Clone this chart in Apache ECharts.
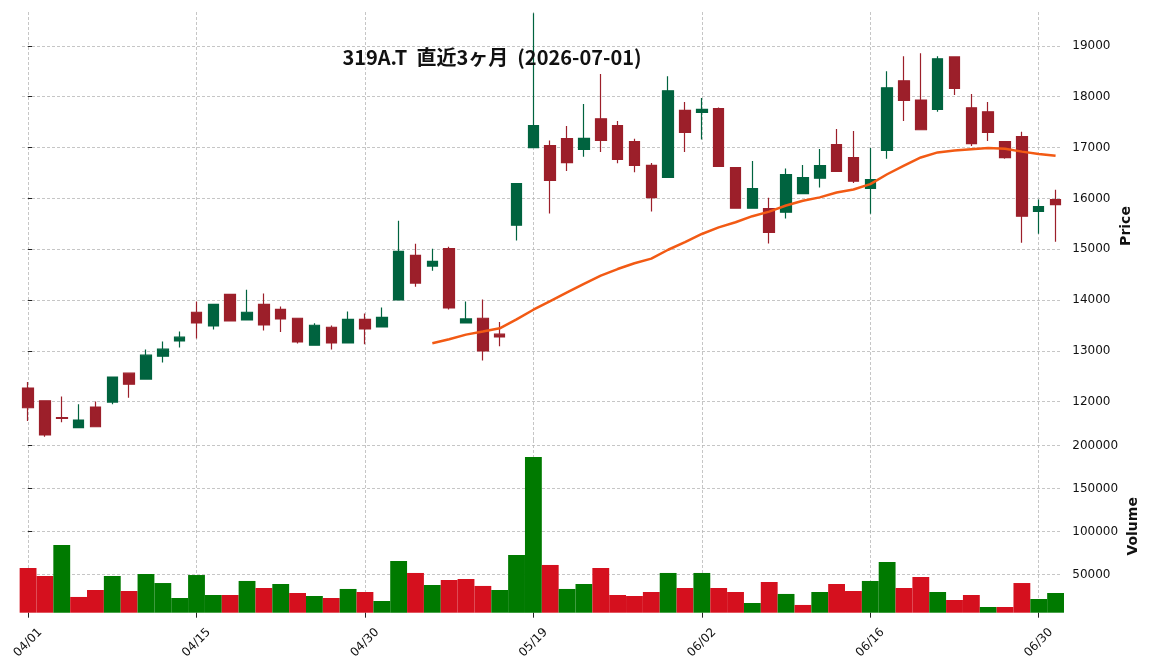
<!DOCTYPE html>
<html>
<head>
<meta charset="utf-8">
<script src="https://cdn.jsdelivr.net/npm/echarts@6/dist/echarts.min.js"></script>
<style>
html, body { margin: 0; padding: 0; background: #fff; }
#chart { width: 1152px; height: 670px; }
</style>
</head>
<body>
<div id="chart"></div>
<script>
// 日付 (取引日)
const dates = ['04/01','04/02','04/03','04/06','04/07','04/08','04/09','04/10','04/13','04/14',
  '04/15','04/16','04/17','04/20','04/21','04/22','04/23','04/24','04/27','04/28',
  '04/30','05/01','05/07','05/08','05/11','05/12','05/13','05/14','05/15','05/18',
  '05/19','05/20','05/21','05/22','05/25','05/26','05/27','05/28','05/29','06/01',
  '06/02','06/03','06/04','06/05','06/08','06/09','06/10','06/11','06/12','06/15',
  '06/16','06/17','06/18','06/19','06/22','06/23','06/24','06/25','06/26','06/29',
  '06/30','07/01']

const opens = [12268,12019,11690,11489,11895,11993,12562,12445,12896,13196,
  13760,13491,14113,13608,13917,13818,13642,13112,13465,13157,
  13622,13471,14001,14878,14668,15010,13550,13642,13328,15473,
  16998,17037,17175,16965,17567,17430,17116,16651,16415,17730,
  17691,17769,16606,15807,15801,15728,16095,16396,17057,16802,
  16199,16945,18313,17934,17750,18784,17783,17705,17116,17214,
  15742,15977]

const closes = [11881,11346,11670,11640,11508,12484,12346,12916,13033,13269,
  13550,13917,13589,13760,13510,13628,13177,13504,13157,13622,
  13432,13661,14957,14335,14761,13844,13628,13000,13275,16291,
  17430,16356,16704,17181,17141,16768,16651,16017,18117,17298,
  17750,16631,15807,16193,15330,16468,16409,16645,16533,16337,
  16370,18176,17926,17351,18745,18162,17077,17298,16802,15650,
  15840,15879]

const lows = [11620,11312,11595,11489,11508,11948,12078,12445,12772,13067,
  13243,13420,13589,13608,13400,13373,13145,13112,13028,13157,
  13131,13471,14001,14264,14578,13813,13550,12812,13092,15173,
  16998,15703,16541,16821,16914,16690,16513,15742,16415,16914,
  17161,16631,15807,15807,15114,15604,16095,16213,16533,16305,
  15697,16782,17522,17351,17705,18032,17031,17130,16782,15128,
  15304,15147]

const highs = [12386,12030,12105,11948,12003,12497,12562,13028,13185,13381,
  13970,13917,14113,14205,14127,13871,13642,13545,13499,13773,
  13734,13852,15559,15108,15010,15049,13970,14009,13569,16291,
  19640,17141,17424,17856,18445,17522,17175,16698,18405,17895,
  17973,17790,16606,16737,16011,16586,16658,16972,17365,17326,
  16992,18503,18798,18857,18798,18784,18052,17895,17116,17312,
  15977,16168]

const volumes = [57800,48500,84500,24100,32200,48500,31000,50800,40300,22900,
  49600,26400,26400,42700,34500,39200,28700,25200,22900,33400,
  29900,19400,65900,52000,38000,43800,45000,36900,32200,72900,
  186900,61300,33400,39200,57800,26400,25200,29900,52000,34500,
  52000,34500,29900,17100,41500,27600,14800,29900,39200,31000,
  42700,64800,34500,47300,29900,20600,26400,12400,12400,40300,
  21700,28700]

// 25日移動平均 (index 24 から)
const maStart = 24
const ma25 = [13151,13228,13320,13380,13445,13620,13810,13980,14150,14320,
  14480,14610,14725,14815,14990,15140,15300,15430,15530,15650,
  15740,15860,15955,16020,16115,16175,16280,16475,16645,16805,
  16905,16940,16965,16990,16975,16920,16875,16840]

const priceTicks = [12000,13000,14000,15000,16000,17000,18000,19000]
const volumeTicks = [50000,100000,150000,200000]
const dateTicks = [0,10,20,30,40,50,60]

const upColor = '#00633f'
const downColor = '#9c1f2a'
const volUpColor = '#007a00'
const volDownColor = '#d5101e'
const gridLine = { show: true, lineStyle: { color: '#b8b8b8', width: 0.8, type: [3, 2] } }
const tickFont = { fontFamily: 'DejaVu Sans', fontSize: 12, color: '#111' }
const nameFont = { fontFamily: 'DejaVu Sans', fontWeight: 'bold', fontSize: 14, color: '#111' }

const candleData = dates.map((d, i) => [i, opens[i], closes[i], lows[i], highs[i]])
const maData = ma25.map((v, i) => [i + maStart, v])
const volumeData = volumes.map((v, i) => {
  const up = i === 0 ? closes[i] >= opens[i] : closes[i] >= closes[i - 1]
  return { value: [i, v], itemStyle: { color: up ? volUpColor : volDownColor } }
})

function dateAxis(gridIndex, withLabels) {
  return {
    type: 'value',
    gridIndex: gridIndex,
    min: -0.36,
    max: 61.34,
    axisLine: { show: false },
    axisTick: { show: withLabels, customValues: dateTicks, length: 5, lineStyle: { color: '#222' } },
    axisLabel: {
      show: withLabels,
      customValues: dateTicks,
      formatter: (v) => dates[v] || '',
      rotate: 45,
      align: 'center',
      verticalAlign: 'middle',
      margin: 30,
      ...tickFont,
    },
    splitLine: gridLine,
  }
}

const chart = echarts.init(document.getElementById('chart'))
chart.setOption({
  animation: false,
  backgroundColor: '#fff',
  title: {
    text: '319A.T  直近3ヶ月  (2026-07-01)',
    left: 487,
    top: 42,
    textAlign: 'center',
    textStyle: { fontFamily: 'Noto Sans CJK JP', fontWeight: 'bold', fontSize: 20, color: '#111' },
  },
  grid: [
    { left: 22, width: 1039.3, top: 12, height: 428 },
    { left: 22, width: 1039.3, top: 440, height: 172.7 },
  ],
  xAxis: [dateAxis(0, false), dateAxis(1, true)],
  yAxis: [
    {
      type: 'value',
      gridIndex: 0,
      position: 'right',
      min: 11247,
      max: 19667,
      axisLine: { show: false },
      axisTick: { show: true, customValues: priceTicks, length: 4, lineStyle: { color: '#222' } },
      axisLabel: { customValues: priceTicks, margin: 11, formatter: (v) => String(v), ...tickFont },
      splitLine: gridLine,
      name: 'Price',
      nameLocation: 'middle',
      nameRotate: 90,
      nameGap: 58,
      nameMoveOverlap: false,
      nameTextStyle: nameFont,
    },
    {
      type: 'value',
      gridIndex: 1,
      position: 'right',
      min: 5800,
      max: 206600,
      axisLine: { show: false },
      axisTick: { show: true, customValues: volumeTicks, length: 4, lineStyle: { color: '#222' } },
      axisLabel: { customValues: volumeTicks, margin: 11, formatter: (v) => String(v), ...tickFont },
      splitLine: gridLine,
      name: 'Volume',
      nameLocation: 'middle',
      nameRotate: 90,
      nameGap: 65,
      nameMoveOverlap: false,
      nameTextStyle: nameFont,
    },
  ],
  series: [
    {
      type: 'candlestick',
      xAxisIndex: 0,
      yAxisIndex: 0,
      data: candleData,
      encode: { x: 0, y: [1, 2, 3, 4] },
      barWidth: 11,
      itemStyle: {
        color: upColor,
        color0: downColor,
        borderColor: upColor,
        borderColor0: downColor,
        borderWidth: 1.2,
      },
    },
    {
      type: 'line',
      xAxisIndex: 0,
      yAxisIndex: 0,
      data: maData,
      symbol: 'none',
      lineStyle: { color: '#f25a14', width: 2.5 },
    },
    {
      type: 'bar',
      xAxisIndex: 1,
      yAxisIndex: 1,
      data: volumeData,
      barWidth: 16.84,
    },
  ],
})
</script>
</body>
</html>
